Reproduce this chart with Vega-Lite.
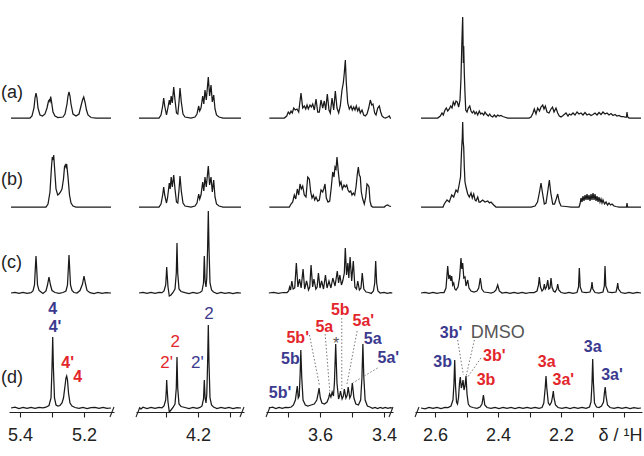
{
"$schema": "https://vega.github.io/schema/vega-lite/v6.json",
"background": "white",
"padding": 0,
"bounds": "flush",
"spacing": 22,
"config": {
 "view": {"stroke": null},
 "axis": {"domainColor": "#222", "tickColor": "#222", "labelColor": "#222", "labelFont": "Liberation Sans", "labelFontSize": 18, "tickSize": 5, "grid": false, "labelPadding": 9, "domainWidth": 1.1, "tickWidth": 1.1},
 "text": {"font": "Liberation Sans"}
},
"datasets": {
"s1": [
{"s":"a","p":5.4281,"i":0},{"s":"a","p":5.3688,"i":0},{"s":"a","p":5.3625,"i":2},{"s":"a","p":5.3563,"i":10},{"s":"a","p":5.3531,"i":20},{"s":"a","p":5.35,"i":25},{"s":"a","p":5.3469,"i":20},{"s":"a","p":5.3438,"i":10},{"s":"a","p":5.3375,"i":3},{"s":"a","p":5.3297,"i":2},{"s":"a","p":5.3219,"i":4},{"s":"a","p":5.3156,"i":10},{"s":"a","p":5.3109,"i":17},{"s":"a","p":5.3084,"i":18},{"s":"a","p":5.3063,"i":16.5},{"s":"a","p":5.3041,"i":21.5},{"s":"a","p":5.3009,"i":15},{"s":"a","p":5.2969,"i":6},{"s":"a","p":5.2906,"i":2},{"s":"a","p":5.2813,"i":0.5},{"s":"a","p":5.2656,"i":1},{"s":"a","p":5.2594,"i":4},{"s":"a","p":5.2531,"i":14},{"s":"a","p":5.25,"i":22},{"s":"a","p":5.2469,"i":26},{"s":"a","p":5.2438,"i":22},{"s":"a","p":5.2406,"i":14},{"s":"a","p":5.2344,"i":4},{"s":"a","p":5.225,"i":2},{"s":"a","p":5.2156,"i":4},{"s":"a","p":5.2094,"i":12},{"s":"a","p":5.2047,"i":18},{"s":"a","p":5.2009,"i":21},{"s":"a","p":5.1969,"i":16},{"s":"a","p":5.1922,"i":8},{"s":"a","p":5.1875,"i":3},{"s":"a","p":5.1781,"i":0.5},{"s":"a","p":5.1625,"i":0},{"s":"a","p":5.1156,"i":0},
{"s":"b","p":5.4281,"i":0},{"s":"b","p":5.3188,"i":0},{"s":"b","p":5.3125,"i":3},{"s":"b","p":5.3063,"i":15},{"s":"b","p":5.3016,"i":40},{"s":"b","p":5.2991,"i":50},{"s":"b","p":5.2969,"i":47},{"s":"b","p":5.2947,"i":52},{"s":"b","p":5.2922,"i":40},{"s":"b","p":5.2875,"i":18},{"s":"b","p":5.2822,"i":12},{"s":"b","p":5.2781,"i":13},{"s":"b","p":5.2734,"i":15},{"s":"b","p":5.2688,"i":18},{"s":"b","p":5.2641,"i":28},{"s":"b","p":5.2609,"i":40},{"s":"b","p":5.2584,"i":42},{"s":"b","p":5.2563,"i":40},{"s":"b","p":5.2541,"i":43},{"s":"b","p":5.25,"i":30},{"s":"b","p":5.2453,"i":12},{"s":"b","p":5.2406,"i":4},{"s":"b","p":5.2344,"i":1},{"s":"b","p":5.225,"i":0},{"s":"b","p":5.1156,"i":0},
{"s":"c","p":5.4281,"i":0},{"s":"c","p":5.4156,"i":0.6},{"s":"c","p":5.4031,"i":-0.4},{"s":"c","p":5.3906,"i":0.5},{"s":"c","p":5.3781,"i":-0.3},{"s":"c","p":5.3656,"i":0.3},{"s":"c","p":5.3594,"i":2},{"s":"c","p":5.3547,"i":8},{"s":"c","p":5.3516,"i":28},{"s":"c","p":5.35,"i":37},{"s":"c","p":5.3484,"i":28},{"s":"c","p":5.3453,"i":8},{"s":"c","p":5.3406,"i":2.5},{"s":"c","p":5.3344,"i":1},{"s":"c","p":5.3281,"i":-0.5},{"s":"c","p":5.3188,"i":2},{"s":"c","p":5.3141,"i":8},{"s":"c","p":5.3094,"i":16},{"s":"c","p":5.3047,"i":8},{"s":"c","p":5.3,"i":2.5},{"s":"c","p":5.2906,"i":0.5},{"s":"c","p":5.2781,"i":-0.4},{"s":"c","p":5.2656,"i":0.5},{"s":"c","p":5.2563,"i":2},{"s":"c","p":5.2516,"i":8},{"s":"c","p":5.2484,"i":28},{"s":"c","p":5.2469,"i":38},{"s":"c","p":5.2453,"i":28},{"s":"c","p":5.2422,"i":8},{"s":"c","p":5.2375,"i":2.5},{"s":"c","p":5.2313,"i":0.5},{"s":"c","p":5.2219,"i":0},{"s":"c","p":5.2125,"i":2.5},{"s":"c","p":5.2047,"i":9},{"s":"c","p":5.2,"i":17},{"s":"c","p":5.1953,"i":9},{"s":"c","p":5.1906,"i":2.5},{"s":"c","p":5.1813,"i":0.3},{"s":"c","p":5.1688,"i":-0.5},{"s":"c","p":5.1563,"i":0.5},{"s":"c","p":5.1438,"i":-0.3},{"s":"c","p":5.1313,"i":0.4},{"s":"c","p":5.1156,"i":0},
{"s":"d","p":5.4281,"i":0},{"s":"d","p":5.4156,"i":0.8},{"s":"d","p":5.4031,"i":-0.5},{"s":"d","p":5.3906,"i":0.6},{"s":"d","p":5.3781,"i":-0.4},{"s":"d","p":5.3656,"i":0.5},{"s":"d","p":5.3531,"i":-0.3},{"s":"d","p":5.3406,"i":0.6},{"s":"d","p":5.3281,"i":0.2},{"s":"d","p":5.3188,"i":0.8},{"s":"d","p":5.3094,"i":2.5},{"s":"d","p":5.3031,"i":10},{"s":"d","p":5.3,"i":40},{"s":"d","p":5.2978,"i":71},{"s":"d","p":5.2956,"i":40},{"s":"d","p":5.2922,"i":10},{"s":"d","p":5.2875,"i":3},{"s":"d","p":5.2813,"i":2},{"s":"d","p":5.275,"i":2.5},{"s":"d","p":5.2688,"i":5},{"s":"d","p":5.2641,"i":10},{"s":"d","p":5.2594,"i":22},{"s":"d","p":5.2563,"i":30},{"s":"d","p":5.2541,"i":32},{"s":"d","p":5.2516,"i":28},{"s":"d","p":5.2484,"i":15},{"s":"d","p":5.2438,"i":5},{"s":"d","p":5.2375,"i":2},{"s":"d","p":5.2281,"i":0.5},{"s":"d","p":5.2156,"i":-0.4},{"s":"d","p":5.2031,"i":0.6},{"s":"d","p":5.1906,"i":-0.5},{"s":"d","p":5.1781,"i":0.4},{"s":"d","p":5.1656,"i":0.7},{"s":"d","p":5.1531,"i":-0.4},{"s":"d","p":5.1406,"i":0.5},{"s":"d","p":5.1281,"i":-0.3},{"s":"d","p":5.1156,"i":0}
],
"s2": [
{"s":"a","p":4.3873,"i":0},{"s":"a","p":4.3238,"i":0},{"s":"a","p":4.3175,"i":3},{"s":"a","p":4.3121,"i":12},{"s":"a","p":4.3089,"i":20},{"s":"a","p":4.3057,"i":12},{"s":"a","p":4.3,"i":3},{"s":"a","p":4.2968,"i":8},{"s":"a","p":4.2911,"i":18},{"s":"a","p":4.2883,"i":13},{"s":"a","p":4.2851,"i":22},{"s":"a","p":4.2816,"i":15},{"s":"a","p":4.2771,"i":31},{"s":"a","p":4.273,"i":18},{"s":"a","p":4.2683,"i":5},{"s":"a","p":4.2641,"i":4},{"s":"a","p":4.2603,"i":16},{"s":"a","p":4.2571,"i":30},{"s":"a","p":4.253,"i":16},{"s":"a","p":4.2476,"i":4},{"s":"a","p":4.2413,"i":1},{"s":"a","p":4.2222,"i":0},{"s":"a","p":4.2095,"i":1},{"s":"a","p":4.2032,"i":4},{"s":"a","p":4.1978,"i":12},{"s":"a","p":4.1946,"i":7},{"s":"a","p":4.1905,"i":10},{"s":"a","p":4.1851,"i":22},{"s":"a","p":4.1816,"i":14},{"s":"a","p":4.1778,"i":28},{"s":"a","p":4.1737,"i":18},{"s":"a","p":4.1673,"i":41},{"s":"a","p":4.1632,"i":22},{"s":"a","p":4.1587,"i":33},{"s":"a","p":4.1546,"i":16},{"s":"a","p":4.1502,"i":23},{"s":"a","p":4.146,"i":9},{"s":"a","p":4.1413,"i":3},{"s":"a","p":4.1333,"i":1},{"s":"a","p":4.1206,"i":0},{"s":"a","p":4.0635,"i":0},
{"s":"b","p":4.3873,"i":0},{"s":"b","p":4.3238,"i":0},{"s":"b","p":4.3175,"i":3},{"s":"b","p":4.3121,"i":12},{"s":"b","p":4.3089,"i":20},{"s":"b","p":4.3057,"i":12},{"s":"b","p":4.3,"i":4},{"s":"b","p":4.2968,"i":9},{"s":"b","p":4.2911,"i":24},{"s":"b","p":4.2883,"i":18},{"s":"b","p":4.2851,"i":30},{"s":"b","p":4.2816,"i":20},{"s":"b","p":4.2771,"i":32},{"s":"b","p":4.273,"i":18},{"s":"b","p":4.2683,"i":5},{"s":"b","p":4.2641,"i":4},{"s":"b","p":4.2603,"i":17},{"s":"b","p":4.2571,"i":31},{"s":"b","p":4.253,"i":16},{"s":"b","p":4.2476,"i":4},{"s":"b","p":4.2413,"i":1},{"s":"b","p":4.2222,"i":0},{"s":"b","p":4.2095,"i":1},{"s":"b","p":4.2032,"i":4},{"s":"b","p":4.1978,"i":13},{"s":"b","p":4.1946,"i":8},{"s":"b","p":4.1905,"i":12},{"s":"b","p":4.1851,"i":25},{"s":"b","p":4.1816,"i":16},{"s":"b","p":4.1778,"i":30},{"s":"b","p":4.1737,"i":20},{"s":"b","p":4.1673,"i":41},{"s":"b","p":4.1632,"i":22},{"s":"b","p":4.1587,"i":30},{"s":"b","p":4.1546,"i":15},{"s":"b","p":4.1502,"i":27},{"s":"b","p":4.146,"i":10},{"s":"b","p":4.1413,"i":3},{"s":"b","p":4.1333,"i":1},{"s":"b","p":4.1206,"i":0},{"s":"b","p":4.0635,"i":0},
{"s":"c","p":4.3873,"i":0},{"s":"c","p":4.3746,"i":0.5},{"s":"c","p":4.3619,"i":-0.4},{"s":"c","p":4.3492,"i":0.5},{"s":"c","p":4.3365,"i":-0.3},{"s":"c","p":4.3238,"i":0.5},{"s":"c","p":4.3143,"i":0.3},{"s":"c","p":4.3079,"i":2},{"s":"c","p":4.3025,"i":8},{"s":"c","p":4.3006,"i":18},{"s":"c","p":4.2994,"i":26},{"s":"c","p":4.2978,"i":18},{"s":"c","p":4.2952,"i":6},{"s":"c","p":4.2911,"i":-3},{"s":"c","p":4.2857,"i":-2},{"s":"c","p":4.2794,"i":0.5},{"s":"c","p":4.273,"i":4},{"s":"c","p":4.2689,"i":20},{"s":"c","p":4.2667,"i":50},{"s":"c","p":4.2644,"i":20},{"s":"c","p":4.2603,"i":4},{"s":"c","p":4.254,"i":1.5},{"s":"c","p":4.2413,"i":0.3},{"s":"c","p":4.2286,"i":-0.5},{"s":"c","p":4.2159,"i":0.5},{"s":"c","p":4.2032,"i":-0.3},{"s":"c","p":4.1937,"i":0.5},{"s":"c","p":4.1873,"i":2},{"s":"c","p":4.1825,"i":10},{"s":"c","p":4.18,"i":37},{"s":"c","p":4.1775,"i":12},{"s":"c","p":4.1746,"i":6},{"s":"c","p":4.1721,"i":15},{"s":"c","p":4.1695,"i":45},{"s":"c","p":4.1673,"i":82},{"s":"c","p":4.1651,"i":45},{"s":"c","p":4.1619,"i":10},{"s":"c","p":4.1571,"i":3},{"s":"c","p":4.1508,"i":1},{"s":"c","p":4.1397,"i":-0.5},{"s":"c","p":4.127,"i":0.5},{"s":"c","p":4.1143,"i":-0.4},{"s":"c","p":4.1016,"i":0.4},{"s":"c","p":4.0889,"i":-0.5},{"s":"c","p":4.0762,"i":0.3},{"s":"c","p":4.0635,"i":0},
{"s":"d","p":4.3873,"i":0},{"s":"d","p":4.381,"i":-1},{"s":"d","p":4.3746,"i":0.8},{"s":"d","p":4.3619,"i":-0.5},{"s":"d","p":4.3492,"i":0.6},{"s":"d","p":4.3365,"i":-0.4},{"s":"d","p":4.3238,"i":0.5},{"s":"d","p":4.3143,"i":0.2},{"s":"d","p":4.3079,"i":2},{"s":"d","p":4.3025,"i":8},{"s":"d","p":4.3006,"i":18},{"s":"d","p":4.2994,"i":28},{"s":"d","p":4.2978,"i":18},{"s":"d","p":4.2952,"i":6},{"s":"d","p":4.2911,"i":-4},{"s":"d","p":4.2857,"i":-2},{"s":"d","p":4.2794,"i":0.5},{"s":"d","p":4.273,"i":4},{"s":"d","p":4.2689,"i":20},{"s":"d","p":4.2667,"i":51},{"s":"d","p":4.2644,"i":20},{"s":"d","p":4.2603,"i":4},{"s":"d","p":4.254,"i":1.5},{"s":"d","p":4.2413,"i":0.5},{"s":"d","p":4.2286,"i":-0.5},{"s":"d","p":4.2159,"i":0.6},{"s":"d","p":4.2032,"i":-0.3},{"s":"d","p":4.1937,"i":0.6},{"s":"d","p":4.1873,"i":2},{"s":"d","p":4.1825,"i":9},{"s":"d","p":4.18,"i":28},{"s":"d","p":4.1775,"i":10},{"s":"d","p":4.1746,"i":5},{"s":"d","p":4.1721,"i":14},{"s":"d","p":4.1695,"i":45},{"s":"d","p":4.1673,"i":83},{"s":"d","p":4.1651,"i":45},{"s":"d","p":4.1619,"i":10},{"s":"d","p":4.1571,"i":3},{"s":"d","p":4.1508,"i":1},{"s":"d","p":4.1397,"i":-0.5},{"s":"d","p":4.127,"i":0.6},{"s":"d","p":4.1143,"i":-0.4},{"s":"d","p":4.1016,"i":0.5},{"s":"d","p":4.0889,"i":-0.6},{"s":"d","p":4.0762,"i":0.4},{"s":"d","p":4.0635,"i":0}
],
"s3": [
{"s":"a","p":3.7584,"i":0},{"s":"a","p":3.7116,"i":0},{"s":"a","p":3.7041,"i":2},{"s":"a","p":3.6991,"i":6},{"s":"a","p":3.6947,"i":4},{"s":"a","p":3.6906,"i":7},{"s":"a","p":3.6866,"i":5},{"s":"a","p":3.6822,"i":10},{"s":"a","p":3.6772,"i":8},{"s":"a","p":3.6719,"i":9},{"s":"a","p":3.6666,"i":6},{"s":"a","p":3.6594,"i":25},{"s":"a","p":3.6541,"i":10},{"s":"a","p":3.6491,"i":12},{"s":"a","p":3.6447,"i":9},{"s":"a","p":3.6406,"i":13},{"s":"a","p":3.6366,"i":9},{"s":"a","p":3.6313,"i":13},{"s":"a","p":3.6272,"i":11},{"s":"a","p":3.6228,"i":14},{"s":"a","p":3.6178,"i":8},{"s":"a","p":3.6125,"i":19},{"s":"a","p":3.6072,"i":6},{"s":"a","p":3.6022,"i":6},{"s":"a","p":3.5969,"i":18},{"s":"a","p":3.5916,"i":10},{"s":"a","p":3.5866,"i":17},{"s":"a","p":3.5822,"i":8},{"s":"a","p":3.5772,"i":24},{"s":"a","p":3.5719,"i":8},{"s":"a","p":3.5678,"i":5},{"s":"a","p":3.5625,"i":20},{"s":"a","p":3.5572,"i":8},{"s":"a","p":3.5522,"i":27},{"s":"a","p":3.5469,"i":10},{"s":"a","p":3.5416,"i":5},{"s":"a","p":3.5366,"i":12},{"s":"a","p":3.5313,"i":28},{"s":"a","p":3.5272,"i":35},{"s":"a","p":3.5241,"i":45},{"s":"a","p":3.5209,"i":58},{"s":"a","p":3.5178,"i":35},{"s":"a","p":3.5134,"i":15},{"s":"a","p":3.5084,"i":9},{"s":"a","p":3.5031,"i":12},{"s":"a","p":3.4991,"i":8},{"s":"a","p":3.4947,"i":11},{"s":"a","p":3.4906,"i":8},{"s":"a","p":3.4866,"i":12},{"s":"a","p":3.4822,"i":7},{"s":"a","p":3.4781,"i":10},{"s":"a","p":3.4741,"i":5},{"s":"a","p":3.4688,"i":8},{"s":"a","p":3.4634,"i":3},{"s":"a","p":3.4584,"i":2},{"s":"a","p":3.4531,"i":4},{"s":"a","p":3.4478,"i":10},{"s":"a","p":3.4428,"i":18},{"s":"a","p":3.4384,"i":13},{"s":"a","p":3.4344,"i":14},{"s":"a","p":3.4291,"i":5},{"s":"a","p":3.425,"i":3},{"s":"a","p":3.4197,"i":10},{"s":"a","p":3.4147,"i":12},{"s":"a","p":3.4103,"i":6},{"s":"a","p":3.4063,"i":2},{"s":"a","p":3.4009,"i":0.5},{"s":"a","p":3.3959,"i":0},{"s":"a","p":3.3884,"i":1},{"s":"a","p":3.3834,"i":2},{"s":"a","p":3.3803,"i":0},{"s":"a","p":3.3781,"i":0},
{"s":"b","p":3.7584,"i":0},{"s":"b","p":3.6959,"i":0},{"s":"b","p":3.6906,"i":3},{"s":"b","p":3.6853,"i":5},{"s":"b","p":3.6803,"i":12},{"s":"b","p":3.6759,"i":8},{"s":"b","p":3.6709,"i":18},{"s":"b","p":3.6666,"i":12},{"s":"b","p":3.6625,"i":23},{"s":"b","p":3.6584,"i":18},{"s":"b","p":3.6541,"i":21},{"s":"b","p":3.6491,"i":12},{"s":"b","p":3.6438,"i":10},{"s":"b","p":3.6384,"i":30},{"s":"b","p":3.6334,"i":28},{"s":"b","p":3.6291,"i":15},{"s":"b","p":3.625,"i":9},{"s":"b","p":3.6209,"i":12},{"s":"b","p":3.6166,"i":7},{"s":"b","p":3.6125,"i":10},{"s":"b","p":3.6072,"i":6},{"s":"b","p":3.6022,"i":7},{"s":"b","p":3.5969,"i":17},{"s":"b","p":3.5916,"i":15},{"s":"b","p":3.5884,"i":18},{"s":"b","p":3.5844,"i":23},{"s":"b","p":3.5803,"i":9},{"s":"b","p":3.575,"i":5},{"s":"b","p":3.5697,"i":6},{"s":"b","p":3.5647,"i":20},{"s":"b","p":3.5603,"i":35},{"s":"b","p":3.5563,"i":30},{"s":"b","p":3.5531,"i":40},{"s":"b","p":3.55,"i":38},{"s":"b","p":3.5469,"i":50},{"s":"b","p":3.5428,"i":35},{"s":"b","p":3.5384,"i":22},{"s":"b","p":3.5344,"i":25},{"s":"b","p":3.5303,"i":18},{"s":"b","p":3.525,"i":22},{"s":"b","p":3.5209,"i":20},{"s":"b","p":3.5166,"i":22},{"s":"b","p":3.5125,"i":17},{"s":"b","p":3.5084,"i":15},{"s":"b","p":3.5041,"i":16},{"s":"b","p":3.5,"i":12},{"s":"b","p":3.4959,"i":14},{"s":"b","p":3.4916,"i":12},{"s":"b","p":3.4875,"i":20},{"s":"b","p":3.4834,"i":33},{"s":"b","p":3.4803,"i":40},{"s":"b","p":3.4772,"i":32},{"s":"b","p":3.4741,"i":30},{"s":"b","p":3.4709,"i":15},{"s":"b","p":3.4666,"i":8},{"s":"b","p":3.4616,"i":3},{"s":"b","p":3.4572,"i":10},{"s":"b","p":3.4531,"i":23},{"s":"b","p":3.45,"i":22},{"s":"b","p":3.4469,"i":20},{"s":"b","p":3.4438,"i":6},{"s":"b","p":3.4397,"i":1},{"s":"b","p":3.4353,"i":0},{"s":"b","p":3.3991,"i":0},{"s":"b","p":3.3938,"i":1.5},{"s":"b","p":3.3884,"i":2},{"s":"b","p":3.3834,"i":1},{"s":"b","p":3.3781,"i":0.5},
{"s":"c","p":3.76,"i":0},{"s":"c","p":3.745,"i":0.5},{"s":"c","p":3.73,"i":-0.4},{"s":"c","p":3.715,"i":0.5},{"s":"c","p":3.703,"i":0.5},{"s":"c","p":3.698,"i":2},{"s":"c","p":3.695,"i":6},{"s":"c","p":3.692,"i":3},{"s":"c","p":3.688,"i":12},{"s":"c","p":3.684,"i":4},{"s":"c","p":3.679,"i":5},{"s":"c","p":3.674,"i":30},{"s":"c","p":3.669,"i":6},{"s":"c","p":3.664,"i":14},{"s":"c","p":3.659,"i":5},{"s":"c","p":3.653,"i":24},{"s":"c","p":3.648,"i":4},{"s":"c","p":3.642,"i":12},{"s":"c","p":3.636,"i":3},{"s":"c","p":3.632,"i":6},{"s":"c","p":3.628,"i":28},{"s":"c","p":3.623,"i":6},{"s":"c","p":3.619,"i":14},{"s":"c","p":3.613,"i":4},{"s":"c","p":3.609,"i":6},{"s":"c","p":3.605,"i":20},{"s":"c","p":3.6,"i":5},{"s":"c","p":3.595,"i":12},{"s":"c","p":3.589,"i":4},{"s":"c","p":3.583,"i":18},{"s":"c","p":3.578,"i":5},{"s":"c","p":3.572,"i":12},{"s":"c","p":3.566,"i":5},{"s":"c","p":3.56,"i":15},{"s":"c","p":3.553,"i":7},{"s":"c","p":3.546,"i":22},{"s":"c","p":3.542,"i":10},{"s":"c","p":3.538,"i":18},{"s":"c","p":3.533,"i":8},{"s":"c","p":3.529,"i":12},{"s":"c","p":3.524,"i":20},{"s":"c","p":3.521,"i":45},{"s":"c","p":3.517,"i":18},{"s":"c","p":3.513,"i":30},{"s":"c","p":3.51,"i":15},{"s":"c","p":3.506,"i":36},{"s":"c","p":3.501,"i":12},{"s":"c","p":3.496,"i":32},{"s":"c","p":3.491,"i":6},{"s":"c","p":3.486,"i":4},{"s":"c","p":3.482,"i":12},{"s":"c","p":3.477,"i":3},{"s":"c","p":3.472,"i":5},{"s":"c","p":3.468,"i":20},{"s":"c","p":3.463,"i":4},{"s":"c","p":3.456,"i":1},{"s":"c","p":3.448,"i":0.5},{"s":"c","p":3.44,"i":-0.4},{"s":"c","p":3.433,"i":2},{"s":"c","p":3.429,"i":10},{"s":"c","p":3.426,"i":32},{"s":"c","p":3.423,"i":10},{"s":"c","p":3.419,"i":2},{"s":"c","p":3.412,"i":0},{"s":"c","p":3.4,"i":0.5},{"s":"c","p":3.39,"i":-0.4},{"s":"c","p":3.38,"i":0.3},{"s":"c","p":3.374,"i":0},
{"s":"d","p":3.76,"i":0},{"s":"d","p":3.748,"i":0.8},{"s":"d","p":3.738,"i":-0.5},{"s":"d","p":3.728,"i":0.6},{"s":"d","p":3.718,"i":-0.4},{"s":"d","p":3.708,"i":0.7},{"s":"d","p":3.698,"i":0.3},{"s":"d","p":3.69,"i":1},{"s":"d","p":3.683,"i":3},{"s":"d","p":3.677,"i":8},{"s":"d","p":3.674,"i":15},{"s":"d","p":3.671,"i":22},{"s":"d","p":3.668,"i":10},{"s":"d","p":3.665,"i":12},{"s":"d","p":3.662,"i":35},{"s":"d","p":3.66,"i":58},{"s":"d","p":3.657,"i":30},{"s":"d","p":3.653,"i":8},{"s":"d","p":3.646,"i":3},{"s":"d","p":3.638,"i":2},{"s":"d","p":3.628,"i":3},{"s":"d","p":3.618,"i":4},{"s":"d","p":3.61,"i":8},{"s":"d","p":3.606,"i":14},{"s":"d","p":3.603,"i":20},{"s":"d","p":3.599,"i":10},{"s":"d","p":3.594,"i":5},{"s":"d","p":3.586,"i":4},{"s":"d","p":3.578,"i":6},{"s":"d","p":3.573,"i":10},{"s":"d","p":3.57,"i":14},{"s":"d","p":3.566,"i":11},{"s":"d","p":3.562,"i":16},{"s":"d","p":3.558,"i":12},{"s":"d","p":3.555,"i":25},{"s":"d","p":3.551,"i":64},{"s":"d","p":3.547,"i":25},{"s":"d","p":3.542,"i":9},{"s":"d","p":3.539,"i":12},{"s":"d","p":3.536,"i":17},{"s":"d","p":3.531,"i":9},{"s":"d","p":3.527,"i":12},{"s":"d","p":3.524,"i":19},{"s":"d","p":3.519,"i":10},{"s":"d","p":3.515,"i":13},{"s":"d","p":3.512,"i":21},{"s":"d","p":3.507,"i":10},{"s":"d","p":3.503,"i":13},{"s":"d","p":3.499,"i":25},{"s":"d","p":3.494,"i":10},{"s":"d","p":3.488,"i":4},{"s":"d","p":3.48,"i":3},{"s":"d","p":3.473,"i":8},{"s":"d","p":3.469,"i":30},{"s":"d","p":3.466,"i":64},{"s":"d","p":3.463,"i":30},{"s":"d","p":3.459,"i":8},{"s":"d","p":3.452,"i":2},{"s":"d","p":3.444,"i":1},{"s":"d","p":3.436,"i":-0.4},{"s":"d","p":3.428,"i":0.6},{"s":"d","p":3.42,"i":-0.5},{"s":"d","p":3.412,"i":0.5},{"s":"d","p":3.404,"i":-0.4},{"s":"d","p":3.396,"i":0.6},{"s":"d","p":3.388,"i":-0.3},{"s":"d","p":3.38,"i":0.4},{"s":"d","p":3.374,"i":0}
],
"s4": [
{"s":"a","p":2.6444,"i":0},{"s":"a","p":2.5914,"i":0},{"s":"a","p":2.5832,"i":2},{"s":"a","p":2.5778,"i":5},{"s":"a","p":2.5737,"i":3},{"s":"a","p":2.5683,"i":8},{"s":"a","p":2.5641,"i":10},{"s":"a","p":2.5597,"i":7},{"s":"a","p":2.5546,"i":9},{"s":"a","p":2.5502,"i":12},{"s":"a","p":2.546,"i":10},{"s":"a","p":2.5419,"i":16},{"s":"a","p":2.5375,"i":13},{"s":"a","p":2.5333,"i":17},{"s":"a","p":2.5292,"i":16},{"s":"a","p":2.5248,"i":11},{"s":"a","p":2.5206,"i":18},{"s":"a","p":2.5175,"i":40},{"s":"a","p":2.5152,"i":70},{"s":"a","p":2.5133,"i":90},{"s":"a","p":2.5121,"i":101},{"s":"a","p":2.5111,"i":80},{"s":"a","p":2.5102,"i":55},{"s":"a","p":2.5089,"i":72},{"s":"a","p":2.507,"i":45},{"s":"a","p":2.5048,"i":25},{"s":"a","p":2.5025,"i":8},{"s":"a","p":2.4984,"i":6},{"s":"a","p":2.4943,"i":10},{"s":"a","p":2.4898,"i":12},{"s":"a","p":2.4857,"i":7},{"s":"a","p":2.4816,"i":5},{"s":"a","p":2.4771,"i":7},{"s":"a","p":2.473,"i":4},{"s":"a","p":2.4689,"i":6},{"s":"a","p":2.4644,"i":3},{"s":"a","p":2.4594,"i":7},{"s":"a","p":2.4549,"i":4},{"s":"a","p":2.4508,"i":5},{"s":"a","p":2.4454,"i":3},{"s":"a","p":2.4413,"i":6},{"s":"a","p":2.4371,"i":4},{"s":"a","p":2.4308,"i":2},{"s":"a","p":2.4263,"i":4},{"s":"a","p":2.4222,"i":2},{"s":"a","p":2.4168,"i":1},{"s":"a","p":2.4117,"i":3},{"s":"a","p":2.4063,"i":1},{"s":"a","p":2.401,"i":3},{"s":"a","p":2.3959,"i":2},{"s":"a","p":2.3905,"i":2.5},{"s":"a","p":2.3851,"i":1.5},{"s":"a","p":2.38,"i":1},{"s":"a","p":2.3692,"i":0},{"s":"a","p":2.3016,"i":0},{"s":"a","p":2.2952,"i":1},{"s":"a","p":2.2889,"i":5},{"s":"a","p":2.2848,"i":9},{"s":"a","p":2.2794,"i":4},{"s":"a","p":2.274,"i":10},{"s":"a","p":2.2683,"i":7},{"s":"a","p":2.2635,"i":11},{"s":"a","p":2.2581,"i":13},{"s":"a","p":2.254,"i":9},{"s":"a","p":2.2498,"i":12},{"s":"a","p":2.2444,"i":6},{"s":"a","p":2.2381,"i":5},{"s":"a","p":2.2317,"i":9},{"s":"a","p":2.227,"i":11},{"s":"a","p":2.2222,"i":6},{"s":"a","p":2.2159,"i":10},{"s":"a","p":2.2105,"i":5},{"s":"a","p":2.2054,"i":2},{"s":"a","p":2.2,"i":1},{"s":"a","p":2.1937,"i":2.5},{"s":"a","p":2.1841,"i":5},{"s":"a","p":2.1778,"i":2},{"s":"a","p":2.1737,"i":4},{"s":"a","p":2.1683,"i":3},{"s":"a","p":2.1619,"i":5},{"s":"a","p":2.1556,"i":3},{"s":"a","p":2.1492,"i":6},{"s":"a","p":2.1429,"i":4},{"s":"a","p":2.1365,"i":5},{"s":"a","p":2.1302,"i":3},{"s":"a","p":2.1238,"i":5.5},{"s":"a","p":2.1175,"i":3},{"s":"a","p":2.1111,"i":4},{"s":"a","p":2.1048,"i":2.5},{"s":"a","p":2.0984,"i":3.5},{"s":"a","p":2.0921,"i":5},{"s":"a","p":2.0857,"i":3},{"s":"a","p":2.0794,"i":5.5},{"s":"a","p":2.073,"i":3.5},{"s":"a","p":2.0667,"i":6},{"s":"a","p":2.0603,"i":4},{"s":"a","p":2.054,"i":5},{"s":"a","p":2.0476,"i":3},{"s":"a","p":2.0413,"i":4.5},{"s":"a","p":2.0349,"i":2.5},{"s":"a","p":2.0286,"i":3.5},{"s":"a","p":2.0222,"i":2},{"s":"a","p":2.0159,"i":2.5},{"s":"a","p":2.0095,"i":1.5},{"s":"a","p":2.0032,"i":1.5},{"s":"a","p":1.9968,"i":1},{"s":"a","p":1.9921,"i":1},{"s":"a","p":1.9905,"i":6},{"s":"a","p":1.9883,"i":1},{"s":"a","p":1.9841,"i":0},{"s":"a","p":1.946,"i":0},
{"s":"b","p":2.6444,"i":0},{"s":"b","p":2.5746,"i":0},{"s":"b","p":2.5705,"i":3},{"s":"b","p":2.5619,"i":7},{"s":"b","p":2.5546,"i":5},{"s":"b","p":2.547,"i":12},{"s":"b","p":2.5406,"i":10},{"s":"b","p":2.5333,"i":17},{"s":"b","p":2.5279,"i":15},{"s":"b","p":2.5229,"i":23},{"s":"b","p":2.519,"i":30},{"s":"b","p":2.5159,"i":55},{"s":"b","p":2.5133,"i":70},{"s":"b","p":2.5121,"i":85},{"s":"b","p":2.5105,"i":65},{"s":"b","p":2.5089,"i":60},{"s":"b","p":2.507,"i":40},{"s":"b","p":2.5048,"i":25},{"s":"b","p":2.5016,"i":20},{"s":"b","p":2.4962,"i":13},{"s":"b","p":2.4911,"i":10},{"s":"b","p":2.4857,"i":14},{"s":"b","p":2.4816,"i":9},{"s":"b","p":2.4771,"i":13},{"s":"b","p":2.473,"i":7},{"s":"b","p":2.4698,"i":6},{"s":"b","p":2.4644,"i":10},{"s":"b","p":2.4603,"i":5},{"s":"b","p":2.4562,"i":5},{"s":"b","p":2.4486,"i":7},{"s":"b","p":2.4413,"i":5},{"s":"b","p":2.4327,"i":6},{"s":"b","p":2.427,"i":4},{"s":"b","p":2.4222,"i":5},{"s":"b","p":2.4137,"i":2},{"s":"b","p":2.4063,"i":0},{"s":"b","p":2.2952,"i":0},{"s":"b","p":2.2825,"i":1},{"s":"b","p":2.2746,"i":5},{"s":"b","p":2.2683,"i":15},{"s":"b","p":2.2635,"i":24},{"s":"b","p":2.2587,"i":14},{"s":"b","p":2.253,"i":3},{"s":"b","p":2.2476,"i":4},{"s":"b","p":2.2419,"i":16},{"s":"b","p":2.2371,"i":27},{"s":"b","p":2.2324,"i":14},{"s":"b","p":2.2263,"i":3},{"s":"b","p":2.2206,"i":3},{"s":"b","p":2.2152,"i":8},{"s":"b","p":2.2105,"i":13},{"s":"b","p":2.2054,"i":5},{"s":"b","p":2.2,"i":1},{"s":"b","p":2.1841,"i":0.5},{"s":"b","p":2.1683,"i":0},{"s":"b","p":2.1429,"i":0},{"s":"b","p":2.1397,"i":3},{"s":"b","p":2.1365,"i":9},{"s":"b","p":2.1333,"i":5},{"s":"b","p":2.1302,"i":11},{"s":"b","p":2.127,"i":6},{"s":"b","p":2.1238,"i":12},{"s":"b","p":2.1206,"i":7},{"s":"b","p":2.1175,"i":13},{"s":"b","p":2.1143,"i":7},{"s":"b","p":2.1111,"i":12},{"s":"b","p":2.1079,"i":6},{"s":"b","p":2.1048,"i":13},{"s":"b","p":2.1016,"i":7},{"s":"b","p":2.0984,"i":14},{"s":"b","p":2.0952,"i":7},{"s":"b","p":2.0921,"i":13},{"s":"b","p":2.0889,"i":6},{"s":"b","p":2.0857,"i":11},{"s":"b","p":2.0825,"i":5},{"s":"b","p":2.0794,"i":10},{"s":"b","p":2.0762,"i":5},{"s":"b","p":2.073,"i":8},{"s":"b","p":2.0698,"i":4},{"s":"b","p":2.0667,"i":7},{"s":"b","p":2.0619,"i":3},{"s":"b","p":2.0571,"i":5},{"s":"b","p":2.0524,"i":2},{"s":"b","p":2.0476,"i":4},{"s":"b","p":2.0429,"i":2},{"s":"b","p":2.0381,"i":3},{"s":"b","p":2.0317,"i":1},{"s":"b","p":2.0254,"i":0.5},{"s":"b","p":2.0159,"i":0},{"s":"b","p":1.9921,"i":0},{"s":"b","p":1.9905,"i":4},{"s":"b","p":1.9886,"i":0},{"s":"b","p":1.946,"i":0},
{"s":"c","p":2.6444,"i":0},{"s":"c","p":2.6317,"i":0.6},{"s":"c","p":2.619,"i":-0.4},{"s":"c","p":2.6063,"i":0.5},{"s":"c","p":2.5937,"i":-0.3},{"s":"c","p":2.581,"i":0.5},{"s":"c","p":2.5714,"i":0.5},{"s":"c","p":2.5651,"i":5},{"s":"c","p":2.5597,"i":27},{"s":"c","p":2.5562,"i":14},{"s":"c","p":2.5524,"i":18},{"s":"c","p":2.5498,"i":12},{"s":"c","p":2.547,"i":17},{"s":"c","p":2.5438,"i":8},{"s":"c","p":2.5406,"i":10},{"s":"c","p":2.5371,"i":4},{"s":"c","p":2.5333,"i":3},{"s":"c","p":2.527,"i":6},{"s":"c","p":2.5222,"i":15},{"s":"c","p":2.5197,"i":25},{"s":"c","p":2.5175,"i":35},{"s":"c","p":2.5149,"i":24},{"s":"c","p":2.5121,"i":30},{"s":"c","p":2.5086,"i":15},{"s":"c","p":2.5048,"i":16},{"s":"c","p":2.5016,"i":7},{"s":"c","p":2.4962,"i":13},{"s":"c","p":2.4921,"i":5},{"s":"c","p":2.4857,"i":2},{"s":"c","p":2.4762,"i":1},{"s":"c","p":2.4667,"i":2},{"s":"c","p":2.4613,"i":5},{"s":"c","p":2.4562,"i":15},{"s":"c","p":2.4514,"i":4},{"s":"c","p":2.4444,"i":1},{"s":"c","p":2.4317,"i":0.5},{"s":"c","p":2.4222,"i":0},{"s":"c","p":2.4127,"i":1},{"s":"c","p":2.4063,"i":3},{"s":"c","p":2.401,"i":8},{"s":"c","p":2.3959,"i":2},{"s":"c","p":2.3873,"i":0},{"s":"c","p":2.3746,"i":0.5},{"s":"c","p":2.3619,"i":-0.4},{"s":"c","p":2.3492,"i":0.5},{"s":"c","p":2.3365,"i":-0.3},{"s":"c","p":2.3238,"i":0.5},{"s":"c","p":2.3111,"i":-0.4},{"s":"c","p":2.2984,"i":0.5},{"s":"c","p":2.2857,"i":0.5},{"s":"c","p":2.2762,"i":2},{"s":"c","p":2.2714,"i":8},{"s":"c","p":2.2689,"i":16},{"s":"c","p":2.2651,"i":6},{"s":"c","p":2.2603,"i":2},{"s":"c","p":2.2556,"i":4},{"s":"c","p":2.253,"i":9},{"s":"c","p":2.2498,"i":4},{"s":"c","p":2.246,"i":6},{"s":"c","p":2.2422,"i":13},{"s":"c","p":2.2387,"i":4},{"s":"c","p":2.2349,"i":5},{"s":"c","p":2.2317,"i":15},{"s":"c","p":2.2286,"i":6},{"s":"c","p":2.2238,"i":2},{"s":"c","p":2.219,"i":1},{"s":"c","p":2.2133,"i":4},{"s":"c","p":2.2105,"i":9},{"s":"c","p":2.207,"i":3},{"s":"c","p":2.2,"i":0.5},{"s":"c","p":2.1873,"i":-0.4},{"s":"c","p":2.1746,"i":0.5},{"s":"c","p":2.1619,"i":-0.3},{"s":"c","p":2.1492,"i":0.5},{"s":"c","p":2.1444,"i":6},{"s":"c","p":2.1419,"i":25},{"s":"c","p":2.139,"i":6},{"s":"c","p":2.1333,"i":1},{"s":"c","p":2.1206,"i":0.3},{"s":"c","p":2.1079,"i":1},{"s":"c","p":2.1038,"i":5},{"s":"c","p":2.1016,"i":11},{"s":"c","p":2.099,"i":4},{"s":"c","p":2.0921,"i":0.5},{"s":"c","p":2.0794,"i":0},{"s":"c","p":2.0667,"i":1},{"s":"c","p":2.0625,"i":7},{"s":"c","p":2.0603,"i":27},{"s":"c","p":2.0578,"i":7},{"s":"c","p":2.0508,"i":1},{"s":"c","p":2.0381,"i":0.3},{"s":"c","p":2.0254,"i":1},{"s":"c","p":2.0222,"i":5},{"s":"c","p":2.02,"i":10},{"s":"c","p":2.0175,"i":4},{"s":"c","p":2.0095,"i":0.5},{"s":"c","p":1.9968,"i":-0.3},{"s":"c","p":1.9841,"i":0.5},{"s":"c","p":1.9714,"i":-0.4},{"s":"c","p":1.9587,"i":0.5},{"s":"c","p":1.946,"i":0},
{"s":"d","p":2.6444,"i":0},{"s":"d","p":2.6317,"i":-0.8},{"s":"d","p":2.619,"i":0.7},{"s":"d","p":2.6063,"i":-0.4},{"s":"d","p":2.5937,"i":0.6},{"s":"d","p":2.581,"i":-0.5},{"s":"d","p":2.5683,"i":0.6},{"s":"d","p":2.5587,"i":0.5},{"s":"d","p":2.5492,"i":2},{"s":"d","p":2.5429,"i":8},{"s":"d","p":2.5397,"i":25},{"s":"d","p":2.5375,"i":48},{"s":"d","p":2.5349,"i":22},{"s":"d","p":2.5317,"i":6},{"s":"d","p":2.5286,"i":4},{"s":"d","p":2.5254,"i":10},{"s":"d","p":2.5222,"i":25},{"s":"d","p":2.5197,"i":31},{"s":"d","p":2.5165,"i":20},{"s":"d","p":2.5133,"i":24},{"s":"d","p":2.5111,"i":28},{"s":"d","p":2.5079,"i":18},{"s":"d","p":2.5048,"i":22},{"s":"d","p":2.5016,"i":32},{"s":"d","p":2.4984,"i":14},{"s":"d","p":2.4943,"i":4},{"s":"d","p":2.4889,"i":1.5},{"s":"d","p":2.4794,"i":0.5},{"s":"d","p":2.4667,"i":-0.4},{"s":"d","p":2.4571,"i":1},{"s":"d","p":2.4508,"i":4},{"s":"d","p":2.4463,"i":13},{"s":"d","p":2.4419,"i":3},{"s":"d","p":2.4349,"i":0.5},{"s":"d","p":2.4222,"i":-0.4},{"s":"d","p":2.4095,"i":0.6},{"s":"d","p":2.3968,"i":-0.5},{"s":"d","p":2.3841,"i":0.6},{"s":"d","p":2.3714,"i":-0.4},{"s":"d","p":2.3587,"i":0.5},{"s":"d","p":2.346,"i":-0.6},{"s":"d","p":2.3333,"i":0.5},{"s":"d","p":2.3206,"i":-0.4},{"s":"d","p":2.3079,"i":0.6},{"s":"d","p":2.2952,"i":-0.3},{"s":"d","p":2.2825,"i":0.5},{"s":"d","p":2.2698,"i":-0.4},{"s":"d","p":2.2603,"i":0.5},{"s":"d","p":2.2546,"i":5},{"s":"d","p":2.2502,"i":20},{"s":"d","p":2.2476,"i":32},{"s":"d","p":2.2451,"i":20},{"s":"d","p":2.2403,"i":5},{"s":"d","p":2.2356,"i":3},{"s":"d","p":2.2302,"i":6},{"s":"d","p":2.2267,"i":12},{"s":"d","p":2.2244,"i":17},{"s":"d","p":2.2222,"i":10},{"s":"d","p":2.2175,"i":3},{"s":"d","p":2.2095,"i":0.5},{"s":"d","p":2.1968,"i":-0.4},{"s":"d","p":2.1841,"i":0.6},{"s":"d","p":2.1714,"i":-0.5},{"s":"d","p":2.1587,"i":0.5},{"s":"d","p":2.146,"i":-0.4},{"s":"d","p":2.1333,"i":0.5},{"s":"d","p":2.1206,"i":-0.3},{"s":"d","p":2.1095,"i":1},{"s":"d","p":2.1048,"i":6},{"s":"d","p":2.1016,"i":25},{"s":"d","p":2.0994,"i":49},{"s":"d","p":2.0971,"i":25},{"s":"d","p":2.0937,"i":5},{"s":"d","p":2.0873,"i":1},{"s":"d","p":2.0794,"i":0.5},{"s":"d","p":2.0714,"i":2},{"s":"d","p":2.0651,"i":6},{"s":"d","p":2.0622,"i":15},{"s":"d","p":2.0597,"i":21},{"s":"d","p":2.0571,"i":12},{"s":"d","p":2.0524,"i":3},{"s":"d","p":2.0444,"i":0.5},{"s":"d","p":2.0317,"i":-0.4},{"s":"d","p":2.019,"i":0.5},{"s":"d","p":2.0063,"i":-0.3},{"s":"d","p":1.9937,"i":0.5},{"s":"d","p":1.981,"i":-0.5},{"s":"d","p":1.9683,"i":0.4},{"s":"d","p":1.9556,"i":-0.3},{"s":"d","p":1.946,"i":0}
],
"rl": [
{"t":"(a)","p":5.4594,"i":315},{"t":"(b)","p":5.4594,"i":228},{"t":"(c)","p":5.4594,"i":145},{"t":"(d)","p":5.4594,"i":30}
],
"l1": [
{"t":"4","p":5.2978,"i":99,"c":"b"},{"t":"4'","p":5.2906,"i":81,"c":"b"},{"t":"4'","p":5.251,"i":45,"c":"r"},{"t":"4","p":5.2197,"i":31,"c":"r"}
],
"l2": [
{"t":"2'","p":4.2994,"i":45,"c":"r"},{"t":"2","p":4.2721,"i":66,"c":"r"},{"t":"2'","p":4.2022,"i":45,"c":"b"},{"t":"2","p":4.1651,"i":94,"c":"b"}
],
"l3": [
{"t":"5b'","p":3.725,"i":15,"c":"b"},{"t":"5b","p":3.6928,"i":49,"c":"b"},{"t":"5b'","p":3.6697,"i":70,"c":"r"},{"t":"5a","p":3.5866,"i":81,"c":"r"},{"t":"5b","p":3.5366,"i":98,"c":"r"},{"t":"5a'","p":3.4647,"i":87,"c":"r"},{"t":"5a","p":3.4353,"i":69,"c":"b"},{"t":"5a'","p":3.3866,"i":50,"c":"b"}
],
"n3": [
{"t":"*","p":3.55,"i":64,"c":"g"}
],
"l4": [
{"t":"3b'","p":2.5492,"i":75,"c":"b"},{"t":"3b","p":2.5756,"i":46,"c":"b"},{"t":"3b'","p":2.4117,"i":52,"c":"r"},{"t":"3b","p":2.4381,"i":28,"c":"r"},{"t":"3a","p":2.2454,"i":46,"c":"r"},{"t":"3a'","p":2.1927,"i":28,"c":"r"},{"t":"3a","p":2.0994,"i":61,"c":"b"},{"t":"3a'","p":2.0381,"i":33,"c":"b"}
],
"n4": [
{"t":"DMSO","p":2.401,"i":75,"c":"g"}
],
"r3": [
{"p":3.633,"i":73,"p2":3.602,"i2":23},{"p":3.584,"i":74,"p2":3.569,"i2":15},{"p":3.532,"i":90,"p2":3.532,"i2":19},{"p":3.484,"i":77,"p2":3.517,"i2":22},{"p":3.42,"i":40,"p2":3.498,"i2":25}
],
"r4": [
{"p":2.528,"i":68,"p2":2.51,"i2":33},{"p":2.475,"i":68,"p2":2.502,"i2":31},{"p":2.454,"i":50,"p2":2.496,"i2":31}
],
"k1": [{"p":5.1188,"i":-9,"p2":5.1063,"i2":1}],
"k2": [{"p":4.3968,"i":-9,"p2":4.3841,"i2":1},{"p":4.0667,"i":-9,"p2":4.054,"i2":1}],
"k3": [{"p":3.7688,"i":-9,"p2":3.7563,"i2":1},{"p":3.3844,"i":-9,"p2":3.3719,"i2":1}],
"k4": [{"p":2.6635,"i":-9,"p2":2.6508,"i2":1}]
},
"hconcat": [
{
 "width": 105, "height": 412,
 "resolve": {"scale": {"y": "independent"}},
 "encoding": {"x": {"field": "p", "type": "quantitative", "scale": {"domain": [5.10625, 5.434375], "reverse": true, "nice": false, "zero": false}, "axis": {"title": null, "values": [5.4, 5.3, 5.2], "labelExpr": "round(datum.value*10)%2==0 ? format(datum.value,'.1f') : ''"}}},
 "layer": [
  {"data": {"name": "s1"}, "transform": [{"filter": "datum.s==='a'"}], "mark": {"type": "line", "color": "#1a1a1a", "strokeWidth": 1.25}, "encoding": {"y": {"field": "i", "type": "quantitative", "scale": {"domain": [-294, 118], "nice": false, "zero": false}, "axis": null}}},
  {"data": {"name": "s1"}, "transform": [{"filter": "datum.s==='b'"}], "mark": {"type": "line", "color": "#1a1a1a", "strokeWidth": 1.25}, "encoding": {"y": {"field": "i", "type": "quantitative", "scale": {"domain": [-205, 207], "nice": false, "zero": false}, "axis": null}}},
  {"data": {"name": "s1"}, "transform": [{"filter": "datum.s==='c'"}], "mark": {"type": "line", "color": "#1a1a1a", "strokeWidth": 1.25}, "encoding": {"y": {"field": "i", "type": "quantitative", "scale": {"domain": [-119, 293], "nice": false, "zero": false}, "axis": null}}},
  {"data": {"name": "s1"}, "transform": [{"filter": "datum.s==='d'"}], "mark": {"type": "line", "color": "#1a1a1a", "strokeWidth": 1.25}, "encoding": {"y": {"field": "i", "type": "quantitative", "scale": {"domain": [-4, 408], "nice": false, "zero": false}, "axis": null}}},
  {"data": {"name": "k1"}, "mark": {"type": "rule", "color": "#222", "strokeWidth": 1.1}, "encoding": {"x2": {"field": "p2"}, "y": {"field": "i", "type": "quantitative", "scale": {"domain": [-4, 408], "nice": false, "zero": false}, "axis": null}, "y2": {"field": "i2"}}},
  {"data": {"name": "l1"}, "mark": {"type": "text", "fontSize": 16, "fontWeight": "bold", "baseline": "middle"}, "encoding": {"y": {"field": "i", "type": "quantitative", "scale": {"domain": [-4, 408], "nice": false, "zero": false}, "axis": null}, "text": {"field": "t"}, "color": {"field": "c", "type": "nominal", "scale": {"domain": ["b", "r", "g"], "range": ["#3b3a8f", "#e3262c", "#555555"]}, "legend": null}}},
  {"data": {"name": "rl"}, "mark": {"type": "text", "fontSize": 18, "align": "left", "baseline": "middle", "color": "#222"}, "encoding": {"y": {"field": "i", "type": "quantitative", "scale": {"domain": [-4, 408], "nice": false, "zero": false}, "axis": null}, "text": {"field": "t"}}}
 ]
},
{
 "width": 108, "height": 412,
 "resolve": {"scale": {"y": "independent"}},
 "encoding": {"x": {"field": "p", "type": "quantitative", "scale": {"domain": [4.054, 4.3968], "reverse": true, "nice": false, "zero": false}, "axis": {"title": null, "values": [4.3, 4.2, 4.1], "labelExpr": "round(datum.value*10)%2==0 ? format(datum.value,'.1f') : ''"}}},
 "layer": [
  {"data": {"name": "s2"}, "transform": [{"filter": "datum.s==='a'"}], "mark": {"type": "line", "color": "#1a1a1a", "strokeWidth": 1.25}, "encoding": {"y": {"field": "i", "type": "quantitative", "scale": {"domain": [-294, 118], "nice": false, "zero": false}, "axis": null}}},
  {"data": {"name": "s2"}, "transform": [{"filter": "datum.s==='b'"}], "mark": {"type": "line", "color": "#1a1a1a", "strokeWidth": 1.25}, "encoding": {"y": {"field": "i", "type": "quantitative", "scale": {"domain": [-205, 207], "nice": false, "zero": false}, "axis": null}}},
  {"data": {"name": "s2"}, "transform": [{"filter": "datum.s==='c'"}], "mark": {"type": "line", "color": "#1a1a1a", "strokeWidth": 1.25}, "encoding": {"y": {"field": "i", "type": "quantitative", "scale": {"domain": [-119, 293], "nice": false, "zero": false}, "axis": null}}},
  {"data": {"name": "s2"}, "transform": [{"filter": "datum.s==='d'"}], "mark": {"type": "line", "color": "#1a1a1a", "strokeWidth": 1.25}, "encoding": {"y": {"field": "i", "type": "quantitative", "scale": {"domain": [-4, 408], "nice": false, "zero": false}, "axis": null}}},
  {"data": {"name": "k2"}, "mark": {"type": "rule", "color": "#222", "strokeWidth": 1.1}, "encoding": {"x2": {"field": "p2"}, "y": {"field": "i", "type": "quantitative", "scale": {"domain": [-4, 408], "nice": false, "zero": false}, "axis": null}, "y2": {"field": "i2"}}},
  {"data": {"name": "l2"}, "mark": {"type": "text", "fontSize": 17, "baseline": "middle"}, "encoding": {"y": {"field": "i", "type": "quantitative", "scale": {"domain": [-4, 408], "nice": false, "zero": false}, "axis": null}, "text": {"field": "t"}, "color": {"field": "c", "type": "nominal", "scale": {"domain": ["b", "r", "g"], "range": ["#4b4a9e", "#e2363d", "#555555"]}, "legend": null}}}
 ]
},
{
 "width": 127, "height": 412,
 "resolve": {"scale": {"y": "independent"}},
 "encoding": {"x": {"field": "p", "type": "quantitative", "scale": {"domain": [3.3719, 3.7688], "reverse": true, "nice": false, "zero": false}, "axis": {"title": null, "values": [3.7, 3.6, 3.5, 3.4], "labelExpr": "round(datum.value*10)%2==0 ? format(datum.value,'.1f') : ''"}}},
 "layer": [
  {"data": {"name": "s3"}, "transform": [{"filter": "datum.s==='a'"}], "mark": {"type": "line", "color": "#1a1a1a", "strokeWidth": 1.25}, "encoding": {"y": {"field": "i", "type": "quantitative", "scale": {"domain": [-294, 118], "nice": false, "zero": false}, "axis": null}}},
  {"data": {"name": "s3"}, "transform": [{"filter": "datum.s==='b'"}], "mark": {"type": "line", "color": "#1a1a1a", "strokeWidth": 1.25}, "encoding": {"y": {"field": "i", "type": "quantitative", "scale": {"domain": [-205, 207], "nice": false, "zero": false}, "axis": null}}},
  {"data": {"name": "s3"}, "transform": [{"filter": "datum.s==='c'"}], "mark": {"type": "line", "color": "#1a1a1a", "strokeWidth": 1.25}, "encoding": {"y": {"field": "i", "type": "quantitative", "scale": {"domain": [-119, 293], "nice": false, "zero": false}, "axis": null}}},
  {"data": {"name": "s3"}, "transform": [{"filter": "datum.s==='d'"}], "mark": {"type": "line", "color": "#1a1a1a", "strokeWidth": 1.25}, "encoding": {"y": {"field": "i", "type": "quantitative", "scale": {"domain": [-4, 408], "nice": false, "zero": false}, "axis": null}}},
  {"data": {"name": "k3"}, "mark": {"type": "rule", "color": "#222", "strokeWidth": 1.1}, "encoding": {"x2": {"field": "p2"}, "y": {"field": "i", "type": "quantitative", "scale": {"domain": [-4, 408], "nice": false, "zero": false}, "axis": null}, "y2": {"field": "i2"}}},
  {"data": {"name": "r3"}, "mark": {"type": "rule", "color": "#777", "strokeWidth": 1, "strokeDash": [1.5, 2]}, "encoding": {"x2": {"field": "p2"}, "y": {"field": "i", "type": "quantitative", "scale": {"domain": [-4, 408], "nice": false, "zero": false}, "axis": null}, "y2": {"field": "i2"}}},
  {"data": {"name": "l3"}, "mark": {"type": "text", "fontSize": 16, "fontWeight": "bold", "baseline": "middle"}, "encoding": {"y": {"field": "i", "type": "quantitative", "scale": {"domain": [-4, 408], "nice": false, "zero": false}, "axis": null}, "text": {"field": "t"}, "color": {"field": "c", "type": "nominal", "scale": {"domain": ["b", "r", "g"], "range": ["#3b3a8f", "#e3262c", "#555555"]}, "legend": null}}},
  {"data": {"name": "n3"}, "mark": {"type": "text", "fontSize": 16, "baseline": "middle", "color": "#555"}, "encoding": {"y": {"field": "i", "type": "quantitative", "scale": {"domain": [-4, 408], "nice": false, "zero": false}, "axis": null}, "text": {"field": "t"}}}
 ]
},
{
 "width": 227, "height": 412,
 "resolve": {"scale": {"y": "independent"}},
 "encoding": {"x": {"field": "p", "type": "quantitative", "scale": {"domain": [1.9429, 2.6635], "reverse": true, "nice": false, "zero": false}, "axis": {"title": "δ / ¹H", "titleX": 183, "titleY": 28, "titleAlign": "left", "titleBaseline": "alphabetic", "titleFont": "Liberation Sans", "titleFontSize": 18, "titleFontWeight": "normal", "titleColor": "#222", "values": [2.6, 2.5, 2.4, 2.3, 2.2, 2.1, 2.0], "labelExpr": "datum.value > 2.05 && round(datum.value*10)%2==0 ? format(datum.value,'.1f') : ''"}}},
 "layer": [
  {"data": {"name": "s4"}, "transform": [{"filter": "datum.s==='a'"}], "mark": {"type": "line", "color": "#1a1a1a", "strokeWidth": 1.25}, "encoding": {"y": {"field": "i", "type": "quantitative", "scale": {"domain": [-294, 118], "nice": false, "zero": false}, "axis": null}}},
  {"data": {"name": "s4"}, "transform": [{"filter": "datum.s==='b'"}], "mark": {"type": "line", "color": "#1a1a1a", "strokeWidth": 1.25}, "encoding": {"y": {"field": "i", "type": "quantitative", "scale": {"domain": [-205, 207], "nice": false, "zero": false}, "axis": null}}},
  {"data": {"name": "s4"}, "transform": [{"filter": "datum.s==='c'"}], "mark": {"type": "line", "color": "#1a1a1a", "strokeWidth": 1.25}, "encoding": {"y": {"field": "i", "type": "quantitative", "scale": {"domain": [-119, 293], "nice": false, "zero": false}, "axis": null}}},
  {"data": {"name": "s4"}, "transform": [{"filter": "datum.s==='d'"}], "mark": {"type": "line", "color": "#1a1a1a", "strokeWidth": 1.25}, "encoding": {"y": {"field": "i", "type": "quantitative", "scale": {"domain": [-4, 408], "nice": false, "zero": false}, "axis": null}}},
  {"data": {"name": "k4"}, "mark": {"type": "rule", "color": "#222", "strokeWidth": 1.1}, "encoding": {"x2": {"field": "p2"}, "y": {"field": "i", "type": "quantitative", "scale": {"domain": [-4, 408], "nice": false, "zero": false}, "axis": null}, "y2": {"field": "i2"}}},
  {"data": {"name": "r4"}, "mark": {"type": "rule", "color": "#777", "strokeWidth": 1, "strokeDash": [1.5, 2]}, "encoding": {"x2": {"field": "p2"}, "y": {"field": "i", "type": "quantitative", "scale": {"domain": [-4, 408], "nice": false, "zero": false}, "axis": null}, "y2": {"field": "i2"}}},
  {"data": {"name": "l4"}, "mark": {"type": "text", "fontSize": 16, "fontWeight": "bold", "baseline": "middle"}, "encoding": {"y": {"field": "i", "type": "quantitative", "scale": {"domain": [-4, 408], "nice": false, "zero": false}, "axis": null}, "text": {"field": "t"}, "color": {"field": "c", "type": "nominal", "scale": {"domain": ["b", "r", "g"], "range": ["#3b3a8f", "#e3262c", "#555555"]}, "legend": null}}},
  {"data": {"name": "n4"}, "mark": {"type": "text", "fontSize": 18, "baseline": "middle", "color": "#555"}, "encoding": {"y": {"field": "i", "type": "quantitative", "scale": {"domain": [-4, 408], "nice": false, "zero": false}, "axis": null}, "text": {"field": "t"}}}
 ]
}
]
}
